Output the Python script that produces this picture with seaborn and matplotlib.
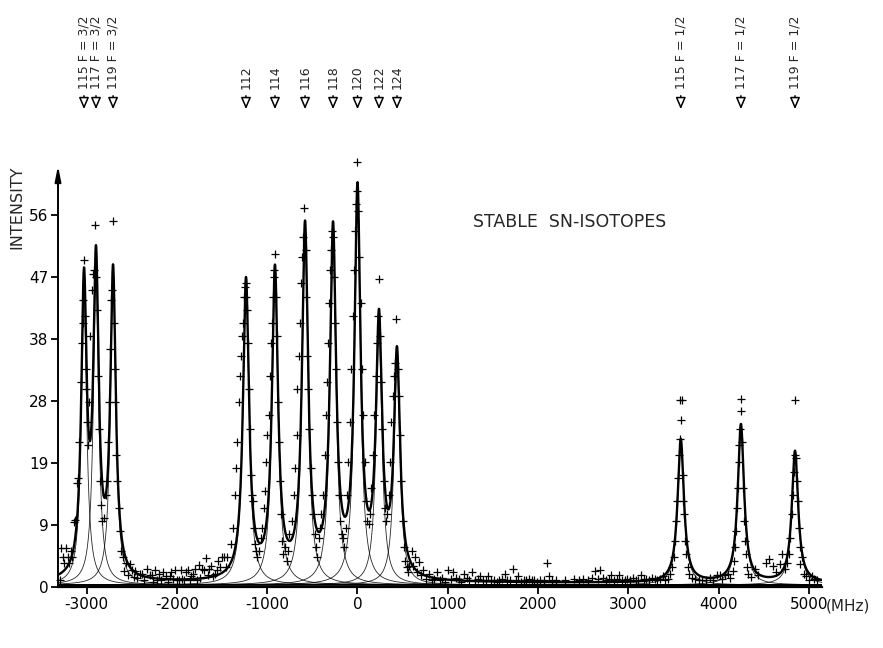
import numpy as np
import pandas as pd
import matplotlib
matplotlib.use("Agg")
import matplotlib.pyplot as plt
import seaborn as sns

sns.set_style("white")
plt.rcParams['font.family'] = ['Liberation Sans Narrow', 'DejaVu Sans']

# ---------------- data ----------------
isotope_labels = ["115 F = 3/2", "117 F = 3/2", "119 F = 3/2", "112", "114", "116", "118",
                  "120", "122", "124", "115 F = 1/2", "117 F = 1/2", "119 F = 1/2"]
peak_centers = [-3029, -2896, -2707, -1235, -914, -581, -271, 0, 238, 437, 3580, 4246, 4845]
peak_heights = [44.0, 46.5, 46.0, 45.2, 46.4, 52.8, 52.1, 57.9, 38.1, 33.6, 21.7, 23.9, 19.9]
peak_hwhm = [36, 36, 36, 40, 40, 40, 40, 40, 40, 40, 42, 42, 42]
fit_baseline = 0.6

data_x = [-3300, -3280, -3260, -3245, -3225, -3210, -3195, -3175, -3160, -3140, -3125, -3105, -3095,
          -3080, -3065, -3055, -3045, -3035, -3030, -3020, -3012, -3005, -2995, -2985,
          -2975, -2960, -2945, -2930, -2920, -2905, -2895, -2885, -2875, -2865, -2855, -2845,
          -2830, -2810, -2790, -2775, -2760, -2750, -2740, -2730, -2720, -2710, -2700, -2690, -2680,
          -2670, -2660, -2645, -2630, -2615, -2600, -2585, -2560, -2540, -2520, -2500, -2480, -2460,
          -2440, -2410, -2385, -2360, -2330, -2300, -2280, -2260, -2240, -2220, -2200, -2180, -2150,
          -2120, -2100, -2080, -2060, -2040, -2020, -2000, -1980, -1960, -1940, -1920, -1900, -1880,
          -1860, -1840, -1820, -1800, -1780, -1760, -1740, -1720, -1700, -1680, -1660, -1640, -1620,
          -1600, -1580, -1560, -1540, -1520, -1500, -1480, -1460, -1440,
          -1400, -1380, -1360, -1345, -1330, -1310, -1300, -1290, -1280, -1270, -1260, -1250, -1240,
          -1230, -1220, -1210, -1200, -1190, -1180, -1170, -1160, -1150, -1140, -1125, -1110, -1090,
          -1070, -1055,
          -1040, -1025, -1010, -1000, -985, -970, -960, -950, -940, -930, -920, -912, -900, -890,
          -880, -870, -860, -850, -835, -820, -800, -785, -770, -755,
          -720, -700, -690, -675, -665, -650, -640, -630, -615, -600, -590, -575, -565, -555, -545,
          -535, -520, -505, -490, -475, -460, -445, -430, -415, -400,
          -380, -365, -350, -340, -325, -315, -300, -290, -280, -270, -260, -250, -240, -230, -220,
          -205, -190, -175, -160, -145, -130, -115,
          -100, -85, -70, -55, -40, -25, -15, -5, 0, 10, 20, 35, 50, 65, 80, 95, 110, 125, 140,
          155, 170, 185, 200, 215, 230, 240, 250, 260, 275, 290, 300, 315, 330,
          345, 360, 375, 390, 405, 420, 430, 445, 455, 470, 485, 500, 515, 530, 545, 560, 575, 600,
          620, 640, 660, 680, 700, 730, 760, 790, 820, 850, 880, 910, 940, 970, 1000, 1030, 1060,
          1090, 1120, 1150, 1180, 1210, 1240, 1270, 1300, 1330, 1360, 1390, 1420, 1450, 1480, 1510,
          1540, 1570, 1600, 1630, 1660, 1690, 1720, 1750, 1780, 1810, 1840, 1870, 1900, 1930, 1960,
          1990, 2020, 2060, 2100, 2120, 2150, 2200, 2300, 2400, 2450, 2500, 2550, 2600, 2630, 2660,
          2690, 2720, 2750, 2780, 2810, 2840, 2870, 2900, 2930, 2960, 2990, 3020, 3050, 3080, 3110,
          3140, 3170, 3200, 3230, 3260, 3290, 3320, 3350, 3380, 3410, 3440,
          3460, 3480, 3500, 3515, 3530, 3540, 3550, 3560, 3570, 3575, 3590, 3585, 3600, 3610, 3620,
          3630, 3640, 3655, 3670, 3700, 3740, 3780, 3820, 3860, 3900, 3940, 3980, 4010, 4040, 4070,
          4100, 4130, 4160,
          4170, 4180, 4190, 4200, 4210, 4220, 4230, 4240, 4250, 4245, 4260, 4270, 4280, 4290, 4300,
          4310, 4330, 4360, 4400, 4430,
          4520, 4560, 4600, 4640, 4680, 4700, 4730, 4760, 4780, 4795, 4810, 4820, 4830, 4840, 4845,
          4855, 4865, 4875, 4885, 4895, 4905, 4920, 4940, 4970, 5000, 5030, 5060, 5090]
data_y = [1.0, 5.9, 4.5, 3.6, 5.9, 4.6, 3.6, 5.5, 4.6, 9.8, 10.2, 15.8, 16.5,
          22, 31, 37, 40, 43.5, 49.5, 41, 33, 30, 25, 21.5,
          28, 38, 45, 47.5, 48, 54.8, 47, 42, 32, 24, 16, 12.5,
          10, 10.5, 14, 16, 22, 28, 36, 43.5, 45, 55.5, 40, 33, 28,
          20, 16, 12, 8.5, 5.5, 4.5, 2.5, 3.7, 1.8, 3.5, 2.6, 1.5, 2.5,
          1.3, 2.0, 2.0, 1.1, 2.8, 1.8, 1.8, 0.8, 2.6, 1.1, 2.0, 1.0, 2.2,
          1.6, 0.8, 1.6, 2.2, 1.2, 2.6, 1.0, 1.0, 2.6, 1.2, 1.0, 2.2, 2.6,
          1.0, 1.6, 2.0, 2.8, 1.0, 3.4, 1.4, 2.8, 2.6, 4.4, 1.8, 2.8, 3.2,
          1.6, 2.0, 2.6, 4.0, 3.0, 4.5, 4.5, 3.0, 4.5,
          6.5, 9, 14, 18, 22, 28, 32, 35, 38, 40, 44, 45.5, 46,
          44, 42, 37, 30, 24, 17, 14, 13, 9, 6.5, 5.5, 4.5, 5.5,
          7.5, 9,
          12, 14.5, 19, 23, 26, 32, 37, 40, 44, 47, 48, 50.5, 44, 38,
          28, 22, 16, 11, 7, 5, 6, 4, 5.5, 8,
          10, 14, 18, 23, 30, 35, 40, 46, 50, 53, 57.5, 51, 44, 35, 30,
          24, 18, 14, 11, 8, 6, 4.5, 7.5, 9, 11,
          14, 20, 26, 31, 37, 43, 48, 51, 54, 53, 47, 40, 33, 25, 19,
          14, 10, 8, 7.5, 6, 9, 14,
          19, 25, 33, 41, 48, 54, 58, 60, 64.4, 57, 50, 43, 33, 26, 19, 13, 10, 9.5, 11,
          15, 20, 26, 32, 37, 41, 46.7, 38, 31, 24, 16, 12, 10, 11,
          14, 19, 25, 29, 32, 34, 40.6, 33, 29, 23, 16, 10, 6, 4, 3, 2.2, 3.2, 5.5,
          3.2, 4.5, 2.2, 3.8, 1.8, 2.6, 1.2, 2.0, 1.0, 1.2, 2.2, 1.0, 1.4, 0.8, 2.6, 1.2, 2.2,
          1.4, 1.2, 0.8, 2.0, 1.4, 1.0, 2.2, 1.0, 1.2, 1.6, 1.0, 1.0, 1.6, 1.0, 1.0,
          0.8, 1.0, 1.2, 2.0, 1.0, 1.0, 2.8, 1.0, 1.6, 0.8, 1.0, 1.0, 1.2, 1.0, 1.0,
          0.8, 1.0, 1.0, 3.6, 1.6, 1.0, 1.0, 1.0, 1.2, 1.0, 1.2, 1.0, 1.4, 2.4, 1.2,
          2.6, 1.4, 1.0, 1.2, 1.8, 1.0, 1.2, 1.8, 1.0, 1.0, 1.2, 1.0, 1.4, 1.0, 1.0,
          1.8, 1.2, 1.2, 1.0, 1.4, 1.2, 1.0, 1.2, 1.6, 1.0, 1.2,
          2, 3, 4.5, 7, 10, 13, 16.5, 20, 22.5, 28.3, 28.3, 25.3, 17, 13, 11,
          7, 5, 3, 2, 1.4, 1.2, 1.0, 1.0, 1.0, 1.4, 1.0, 1.8, 1.8, 1.2, 1.8,
          2.0, 1.4, 2.4,
          4, 6, 8.5, 12, 15, 19, 21.5, 24, 28.5, 26.6, 22, 15, 10, 7, 5,
          3, 2.0, 1.5, 2.8, 1.8,
          3.6, 4.2, 3.2, 2.2, 3.5, 5, 2.8, 3.6, 5, 7.5, 11, 14, 17.5, 20.0, 28.3,
          19.5, 16, 13, 9, 6, 3.5, 4.5, 2, 1.6, 1.0, 1.6, 1.2, 1.0]

x_ticks = [-3000, -2000, -1000, 0, 1000, 2000, 3000, 4000, 5000]
x_tick_labels = ["-3000", "-2000", "-1000", "0", "1000", "2000", "3000", "4000", "5000"]
y_ticks = [0, 9.4, 18.8, 28.2, 37.6, 47.0, 56.4]
y_tick_labels = ["0", "9", "19", "28", "38", "47", "56"]

# ---------------- layout (pixels of the 883x648 canvas) ----------------
W, H = 883, 648
X0_PX, X_PER_1000 = 357.5, 90.3     # pixel of 0 MHz, pixels per 1000 MHz
Y0_PX, Y_PER_UNIT = 587.0, 6.6      # pixel of intensity 0, pixels per unit
LEFT_PX, RIGHT_PX, TOP_PX = 58, 822, 163
xmin = (LEFT_PX - X0_PX) / X_PER_1000 * 1000
xmax = (RIGHT_PX - X0_PX) / X_PER_1000 * 1000
ymin = -1.0
ymax = (Y0_PX - TOP_PX) / Y_PER_UNIT
bottom_px = Y0_PX - ymin * Y_PER_UNIT

fig = plt.figure(figsize=(W / 100, H / 100), dpi=100)
ax = fig.add_axes([LEFT_PX / W, 1 - bottom_px / H, (RIGHT_PX - LEFT_PX) / W, (bottom_px - TOP_PX) / H])

# model curves from the listed peak parameters
xg = np.linspace(xmin, xmax, 4000)
comps = []
for c, a, g in zip(peak_centers, peak_heights, peak_hwhm):
    comps.append(a / (1 + ((xg - c) / g) ** 2))
total = np.sum(comps, axis=0) + fit_baseline

for comp in comps:
    sns.lineplot(x=xg, y=comp + fit_baseline * 0.5, ax=ax, color="black", lw=0.6, alpha=0.85)
sns.lineplot(x=xg, y=total, ax=ax, color="black", lw=1.7)

pts = pd.DataFrame({"x": data_x, "y": data_y})
sns.scatterplot(data=pts, x="x", y="y", ax=ax, marker="+", s=28, color="black", linewidth=0.9,
                zorder=5, clip_on=False)

ax.set_xlim(xmin, xmax)
ax.set_ylim(ymin, ymax)
ax.set_xlabel("")
ax.set_ylabel("")
for s in ["top", "right"]:
    ax.spines[s].set_visible(False)
ax.spines["bottom"].set_position(("data", 0))
ax.spines["left"].set_bounds(0, ymax - 1.5)
ax.spines["left"].set_linewidth(1.4)
ax.spines["bottom"].set_linewidth(1.6)
ax.spines["left"].set_color("black")
ax.spines["bottom"].set_color("black")
ax.annotate("", xy=(xmin, ymax), xytext=(xmin, ymax - 4), xycoords="data",
            arrowprops=dict(arrowstyle="-|>,head_length=0.9,head_width=0.18", color="black", lw=1.4),
            annotation_clip=False)

ax.set_xticks(x_ticks)
ax.set_xticklabels(x_tick_labels)
ax.set_yticks(y_ticks)
ax.set_yticklabels(y_tick_labels)
ax.tick_params(axis="both", direction="out", length=5, width=1.3, colors="black",
               labelsize=11, pad=2, bottom=True, left=True)

fig.text(848 / W, 1 - 606 / H, "(MHz)", ha="center", va="center", fontsize=11)
fig.text(17 / W, 1 - 207 / H, "INTENSITY", rotation=90, ha="center", va="center", fontsize=11.5)
fig.text(570 / W, 1 - 222 / H, "STABLE  SN-ISOTOPES", ha="center", va="center", fontsize=12.5)

# isotope markers at the top
for c, lab in zip(peak_centers, isotope_labels):
    ax.annotate("", xy=(c, 1 - 112 / H), xytext=(c, 1 - 93 / H),
                xycoords=("data", "figure fraction"), textcoords=("data", "figure fraction"),
                arrowprops=dict(arrowstyle="-|>,head_length=0.7,head_width=0.3", fc="white",
                                ec="black", lw=1.1),
                annotation_clip=False)
    ax.annotate(lab, xy=(c, 1 - 89 / H), xycoords=("data", "figure fraction"),
                rotation=90, ha="center", va="bottom", fontsize=9, annotation_clip=False)

fig.savefig("out.png", dpi=100)
